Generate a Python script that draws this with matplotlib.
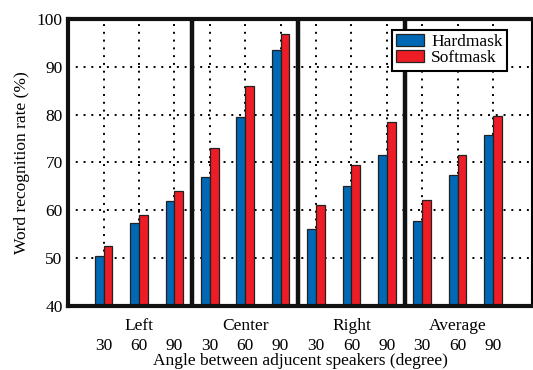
import matplotlib.pyplot as plt
import numpy as np

plt.rcParams["font.family"] = ["Liberation Serif", "DejaVu Serif"]

groups = ["Left", "Center", "Right", "Average"]
angles = ["30", "60", "90"]
hardmask = [50.4, 57.4, 62.0, 66.9, 79.4, 93.4, 56.0, 65.0, 71.5, 57.8, 67.3, 75.7]
softmask = [52.5, 59.0, 64.0, 73.0, 85.9, 96.9, 61.0, 69.5, 78.4, 62.1, 71.5, 79.8]

x = np.arange(len(hardmask))
w = 0.25
fs = 12.5

fig = plt.figure(figsize=(5.33, 3.70), dpi=100)
ax = fig.add_axes([0.128, 0.173, 0.870, 0.776])

ax.set_axisbelow(True)
ax.grid(True, linestyle=(0, (1, 3)), color="black", linewidth=1.4)

ax.bar(x - w / 2, hardmask, w, color="#0068b5", edgecolor="#222222",
       linewidth=0.9, label="Hardmask")
ax.bar(x + w / 2, softmask, w, color="#ee1c25", edgecolor="#222222",
       linewidth=0.9, label="Softmask")

for sep in [2.5, 5.5, 8.5]:
    ax.axvline(sep, color="#111111", linewidth=3.2)

ax.set_xlim(-1, 12.1)
ax.set_ylim(40, 100)
ax.set_yticks([40, 50, 60, 70, 80, 90, 100])

ax.set_xticks(x)
ax.set_xticklabels(angles * len(groups), fontsize=fs)
ax.tick_params(axis="both", length=0, labelsize=fs)
ax.tick_params(axis="x", pad=23)
ax.tick_params(axis="y", pad=4)

# group names sit between the axis and the angle numbers
for k, g in enumerate(groups):
    ax.annotate(g, xy=(3 * k + 1, 0), xycoords=("data", "axes fraction"),
                xytext=(0, -20), textcoords="offset pixels",
                ha="center", va="center", fontsize=fs)

for side in ["left", "top", "bottom"]:
    ax.spines[side].set_linewidth(3)
    ax.spines[side].set_color("#111111")
ax.spines["right"].set_linewidth(1.5)

ax.set_xlabel("Angle between adjucent speakers (degree)", fontsize=fs, labelpad=-1)
ax.set_ylabel("Word recognition rate (%)", fontsize=fs, labelpad=5)

leg = ax.legend(loc="upper right", bbox_to_anchor=(0.946, 0.962), fontsize=fs,
                fancybox=False, framealpha=1, edgecolor="black",
                handlelength=1.6, handleheight=0.7, handletextpad=0.4,
                borderpad=0.25, labelspacing=0.0, borderaxespad=0)
leg.get_frame().set_linewidth(1.5)

fig.savefig("out.png", dpi=100)
